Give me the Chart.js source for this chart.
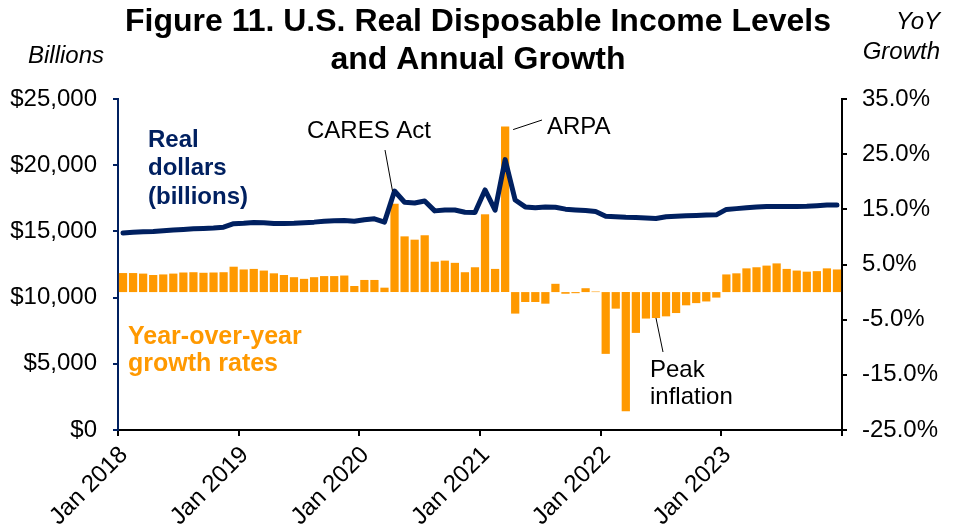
<!DOCTYPE html>
<html>
<head>
<meta charset="utf-8">
<script src="https://cdn.jsdelivr.net/npm/chart.js@4.4.0/dist/chart.umd.min.js"></script>
<style>
  html, body { margin: 0; padding: 0; background: #fff; }
  #wrap { width: 957px; height: 529px; }
</style>
</head>
<body>
<div id="wrap"><canvas id="incomeChart"></canvas></div>
<script>
/* global Chart */

const monthNames = ['Jan', 'Feb', 'Mar', 'Apr', 'May', 'Jun', 'Jul', 'Aug', 'Sep', 'Oct', 'Nov', 'Dec'];
const years = [2018, 2019, 2020, 2021, 2022, 2023];
const months = years.flatMap(y => monthNames.map(m => m + ' ' + y));

// Real disposable personal income, billions of chained dollars (monthly)
const realIncome = [
  14880, 14930, 14970, 15000, 15050, 15100, 15150, 15200, 15220, 15250, 15320, 15580,
  15620, 15680, 15660, 15600, 15600, 15620, 15660, 15700, 15760, 15800, 15820, 15760,
  15880, 15950, 15700, 18050, 17200, 17150, 17300, 16550, 16620, 16620, 16450, 16420,
  18130, 16600, 20420, 17370, 16850, 16780, 16850, 16820, 16680, 16620, 16570, 16500,
  16150, 16100, 16060, 16050, 16020, 15970, 16100, 16150, 16190, 16210, 16240, 16250,
  16660, 16720, 16780, 16840, 16880, 16890, 16890, 16890, 16900, 16940, 16990, 17000
];

// Year-over-year growth, percent
const yoyGrowth = [
  3.45, 3.45, 3.35, 3.1, 3.2, 3.35, 3.55, 3.6, 3.5, 3.55, 3.6, 4.6,
  4.1, 4.2, 3.9, 3.4, 3.1, 2.7, 2.4, 2.7, 2.9, 2.9, 3.0, 1.1,
  2.2, 2.2, 0.8, 16.0, 10.1, 9.5, 10.3, 5.5, 5.7, 5.3, 3.6, 4.5,
  14.1, 4.2, 30.0, -3.9, -1.8, -1.8, -2.1, 1.5, -0.3, -0.2, 0.7, 0.1,
  -11.2, -3.0, -21.6, -7.4, -4.8, -4.7, -4.4, -3.8, -2.4, -2.0, -1.7, -1.0,
  3.2, 3.4, 4.3, 4.5, 4.8, 5.2, 4.2, 3.9, 3.7, 3.8, 4.3, 4.1
];

const yearTicks = ['Jan 2018', 'Jan 2019', 'Jan 2020', 'Jan 2021', 'Jan 2022', 'Jan 2023'];

const NAVY = '#002060';
const ORANGE = '#FF9900';
const FONT = "'Liberation Sans', Arial, sans-serif";

function lines(ctx, arr, x, y, step) {
  arr.forEach((t, i) => ctx.fillText(t, x, y + i * step));
}

function leader(ctx, x1, y1, x2, y2) {
  ctx.beginPath();
  ctx.moveTo(x1, y1);
  ctx.lineTo(x2, y2);
  ctx.stroke();
}

// Title, axis captions and callouts
const labelsPlugin = {
  id: 'labels',
  afterDraw(chart) {
    const { ctx, scales: { x, y, y1 } } = chart;
    ctx.save();
    ctx.textBaseline = 'middle';
    ctx.fillStyle = '#000';

    ctx.textAlign = 'center';
    ctx.font = 'bold 32px ' + FONT;
    lines(ctx, ['Figure 11. U.S. Real Disposable Income Levels', 'and Annual Growth'], 478, 22, 38);

    ctx.font = 'italic 24px ' + FONT;
    ctx.textAlign = 'left';
    ctx.fillText('Billions', 28, 56);
    ctx.textAlign = 'right';
    lines(ctx, ['YoY', 'Growth'], 940, 22, 30);

    ctx.textAlign = 'left';
    ctx.font = 'bold 24px ' + FONT;
    ctx.fillStyle = NAVY;
    lines(ctx, ['Real', 'dollars', '(billions)'], 148, 140, 28.5);
    ctx.font = 'bold 25px ' + FONT;
    ctx.fillStyle = ORANGE;
    lines(ctx, ['Year-over-year', 'growth rates'], 128, 337, 27);

    ctx.font = '24px ' + FONT;
    ctx.fillStyle = '#000';
    ctx.fillText('CARES Act', 307, 131);
    ctx.fillText('ARPA', 547, 127);
    lines(ctx, ['Peak', 'inflation'], 650, 370, 27);

    ctx.strokeStyle = '#000';
    ctx.lineWidth = 1;
    const cares = 27, arpa = 38, peak = 53;
    leader(ctx, 385, 150, x.getPixelForValue(cares) - 2, y.getPixelForValue(realIncome[cares]));
    leader(ctx, x.getPixelForValue(arpa) + 8, y1.getPixelForValue(yoyGrowth[arpa]) + 3, 542, 120);
    leader(ctx, x.getPixelForValue(peak), y1.getPixelForValue(yoyGrowth[peak]), 663, 352);
    ctx.restore();
  }
};

const tickFont = { family: FONT, size: 24 };

new Chart(document.getElementById('incomeChart'), {
  type: 'bar',
  data: {
    labels: months,
    datasets: [
      {
        type: 'line', label: 'Real dollars (billions)', data: realIncome,
        borderColor: NAVY, borderWidth: 5, pointRadius: 0, tension: 0,
        borderCapStyle: 'round', borderJoinStyle: 'round',
        xAxisID: 'x', yAxisID: 'y', order: 0
      },
      {
        label: 'Year-over-year growth rates', data: yoyGrowth,
        backgroundColor: ORANGE, borderWidth: 0,
        barPercentage: 0.82, categoryPercentage: 1.0,
        xAxisID: 'x', yAxisID: 'y1', order: 1
      }
    ]
  },
  options: {
    responsive: true,
    maintainAspectRatio: false,
    animation: false,
    layout: { padding: { top: 99, left: 0, right: 0, bottom: 0 } },
    plugins: { legend: { display: false }, title: { display: false }, tooltip: { enabled: false } },
    scales: {
      x: { type: 'category', display: false, offset: true, grid: { offset: true } },
      // year ticks sit on the month boundaries, so they get their own linear axis
      xYears: {
        type: 'linear', position: 'bottom', min: 0, max: months.length, offset: false,
        grid: { offset: false, drawOnChartArea: false, color: '#000', lineWidth: 2, tickLength: 6 },
        border: { color: '#000', width: 2 },
        ticks: {
          autoSkip: false, minRotation: 45, maxRotation: 45, padding: 5, labelOffset: 6,
          color: '#000', font: tickFont,
          callback: v => yearTicks[v / 12] ?? ''
        },
        afterBuildTicks: s => {
          s.ticks = [];
          for (let v = 0; v <= months.length; v += 12) s.ticks.push({ value: v });
        },
        afterFit: s => { s.height = 99; }
      },
      y: {
        position: 'left', min: 0, max: 25000,
        grid: { drawOnChartArea: false, color: NAVY, lineWidth: 2, tickLength: 5 },
        border: { color: NAVY, width: 2 },
        ticks: {
          stepSize: 5000, padding: 16, color: '#000', font: tickFont,
          callback: v => '$' + v.toLocaleString('en-US')
        },
        afterFit: s => { s.width = 118; }
      },
      y1: {
        position: 'right', min: -25, max: 35,
        grid: { drawOnChartArea: false, color: '#000', lineWidth: 2, tickLength: 5 },
        border: { color: '#000', width: 2 },
        ticks: {
          stepSize: 10, padding: 15, color: '#000', font: tickFont,
          callback: v => v.toFixed(1) + '%'
        },
        afterFit: s => { s.width = 115; }
      }
    }
  },
  plugins: [labelsPlugin]
});
</script>
</body>
</html>
